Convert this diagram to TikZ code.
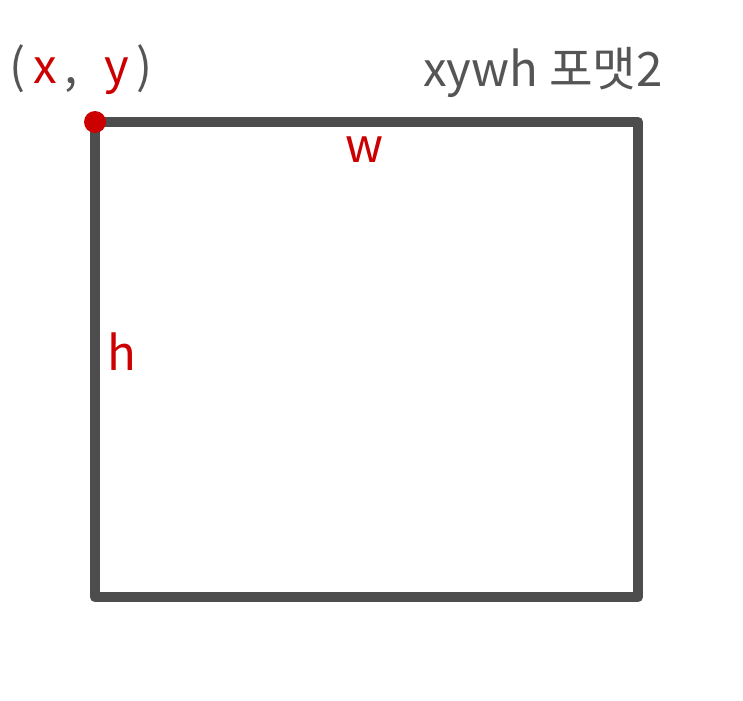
\documentclass[tikz,border=0pt]{standalone}
\usepackage{fontspec}
\setmainfont{Noto Sans CJK KR}
\usepackage{xcolor}
\usetikzlibrary{positioning}
\definecolor{boxgray}{HTML}{4D4D4D}
\definecolor{markred}{HTML}{CC0000}
\definecolor{inkgray}{HTML}{555555}
\newcommand{\hand}{\fontsize{27}{30}\selectfont}

\begin{document}
\begin{tikzpicture}[x=0.02cm, y=-0.02cm]
        \useasboundingbox (0,0) rectangle (743,700);

        % Box
        \coordinate (tl) at (95,122);
        \coordinate (br) at (638,597);
        \draw[boxgray, line width=6pt, line join=round, line cap=round] (tl) rectangle (br);

        % Corner point
        \fill[markred] (tl) circle (0.22cm);

        % Labels
        \node[markred, font=\hand] (xy) at (81,70)
        {\textcolor{inkgray}{(}\,x\,\textcolor{inkgray}{,}\, \,y\,\textcolor{inkgray}{)}};
        \node[inkgray, font=\hand] (fmt) at (543,72) {xywh 포맷2};
        \node[markred, font=\hand] (wlabel) at (365,150) {w};
        \node[markred, font=\hand] (hlabel) at (122,352) {h};
    \end{tikzpicture}
\end{document}
